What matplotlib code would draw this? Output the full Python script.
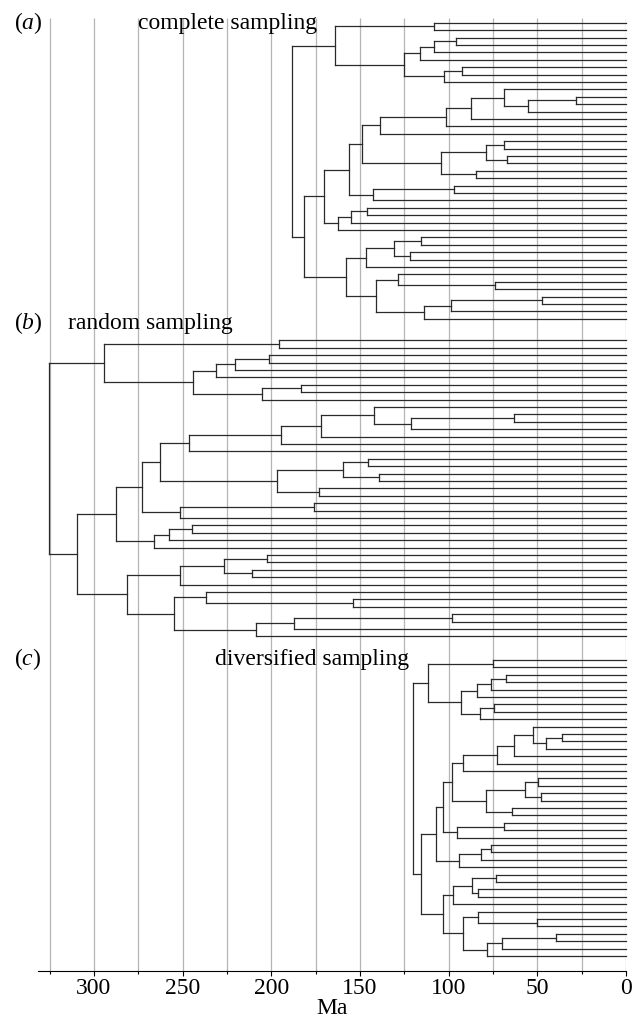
import matplotlib
matplotlib.use("Agg")
import matplotlib.pyplot as plt
from matplotlib.collections import LineCollection

# ---------------- data ----------------
# shared tree topology ('*' = tip); internal nodes are numbered in pre-order
TOPOLOGY = ("(((*,*),((((*,*),*),*),((*,*),*))),"
            "((((((((*,((*,*),*)),*),*),*),(((*,*),(*,*)),(*,*))),((*,*),*)),(((*,*),*),*)),"
            "((((*,*),(*,*)),*),((*,(*,*)),(((*,*),*),*)))))")

# node ages (Ma), pre-order
ages_complete = [188.5, 163.8, 108.0, 125.0, 116.2, 108.3, 96.0, 102.5, 92.5,
                 181.8, 170.5, 156.4, 148.6, 138.6, 101.7, 87.2, 68.5, 55.5, 28.4,
                 104.4, 79.0, 68.5, 67.0, 84.4, 142.7, 96.8, 162.1, 155.1, 146.0,
                 157.8, 146.5, 131.0, 115.5, 121.7, 140.8, 128.6, 73.7, 113.7, 98.7, 47.6]
ages_random = [325.4, 294.1, 195.8, 244.0, 231.3, 220.6, 201.3, 205.4, 183.4,
               309.7, 287.5, 272.7, 262.6, 246.5, 194.7, 172.0, 142.2, 121.2, 63.0,
               196.9, 159.8, 145.7, 139.4, 173.1, 251.3, 175.9, 266.3, 257.7, 244.6,
               281.2, 251.5, 226.8, 202.6, 210.6, 255.0, 236.9, 153.8, 208.6, 187.0, 98.0]
ages_diversified = [120.0, 111.5, 74.8, 93.3, 83.8, 76.3, 67.8, 82.3, 74.2,
                    115.3, 107.2, 103.0, 98.3, 92.1, 72.5, 63.1, 52.6, 45.0, 36.2,
                    79.1, 56.9, 49.4, 48.0, 64.4, 95.0, 68.6, 94.0, 81.8, 76.1,
                    103.4, 97.4, 87.0, 73.3, 83.3, 91.7, 83.3, 50.3, 78.2, 69.7, 39.4]

panel_letters = ["a", "b", "c"]
panel_titles = ["complete sampling", "random sampling", "diversified sampling"]
major_ticks = [0, 50, 100, 150, 200, 250, 300]
minor_ticks = [25, 75, 125, 175, 225, 275, 325]
grid_ages = [0, 25, 50, 75, 100, 125, 150, 175, 200, 225, 250, 275, 300, 325]
x_label = "Ma"

# ---------------- layout ----------------
W, H = 634, 1025
AX_L, AX_R, AX_T, AX_B = 38, 626, 15, 971
XMAX = 331.5
panel_y0 = [22.7, 340.3, 660.0]
tip_step = 7.4
# (letter x, title x, baseline y) in pixels
title_pos = [(14, 138, 29.5), (14, 68, 329.0), (14, 215, 665.0)]

plt.rcParams["font.family"] = ["Liberation Serif", "DejaVu Serif"]
plt.rcParams["mathtext.fontset"] = "custom"
plt.rcParams["mathtext.rm"] = "Liberation Serif"
plt.rcParams["mathtext.it"] = "Liberation Serif:italic"
FS = 17


def parse(s):
    pos = 0

    def node():
        nonlocal pos
        if s[pos] == "*":
            pos += 1
            return None
        pos += 1  # '('
        left = node()
        pos += 1  # ','
        right = node()
        pos += 1  # ')'
        return [left, right]

    return node()


tree = parse(TOPOLOGY)


def segments(tree, ages, y0, dy):
    cnt = {"leaf": 0, "node": 0}
    segs = []

    def visit(n):
        if n is None:
            y = y0 + cnt["leaf"] * dy
            cnt["leaf"] += 1
            return y, 0.0
        i = cnt["node"]
        cnt["node"] += 1
        a = ages[i]
        yl, al = visit(n[0])
        yr, ar = visit(n[1])
        segs.append([(a, yl), (a, yr)])
        segs.append([(a, yl), (al, yl)])
        segs.append([(a, yr), (ar, yr)])
        return (yl + yr) / 2.0, a

    visit(tree)
    return segs


fig = plt.figure(figsize=(W / 100, H / 100), dpi=100)
ax = fig.add_axes([AX_L / W, 1 - AX_B / H, (AX_R - AX_L) / W, (AX_B - AX_T) / H])
ax.set_xlim(XMAX, 0)
ax.set_ylim(AX_B, AX_T)

ax.vlines(grid_ages, 18, AX_B, color="#b5b5b5", lw=0.9, zorder=0)

for ages, y0 in zip([ages_complete, ages_random, ages_diversified], panel_y0):
    lc = LineCollection(segments(tree, ages, y0, tip_step), colors="#2a2a2a",
                        linewidths=0.9, capstyle="projecting", zorder=2)
    lc.set_clip_on(False)
    ax.add_collection(lc)

for sp in ["top", "left", "right"]:
    ax.spines[sp].set_visible(False)
ax.spines["bottom"].set_linewidth(0.8)
ax.set_yticks([])
ax.set_xticks(major_ticks)
ax.set_xticks(minor_ticks, minor=True)
ax.tick_params(axis="x", which="major", length=3.8, width=0.8, pad=1.5, labelsize=FS)
ax.tick_params(axis="x", which="minor", length=2.2, width=0.8)
ax.set_xlabel(x_label, fontsize=FS, labelpad=-1)

for letter, title, (lx, tx, by) in zip(panel_letters, panel_titles, title_pos):
    fig.text(lx / W, 1 - by / H, "($\\mathit{%s}$)" % letter, fontsize=FS,
             va="baseline", ha="left")
    fig.text(tx / W, 1 - by / H, title, fontsize=FS, va="baseline", ha="left")

fig.savefig("out.png", dpi=100)
